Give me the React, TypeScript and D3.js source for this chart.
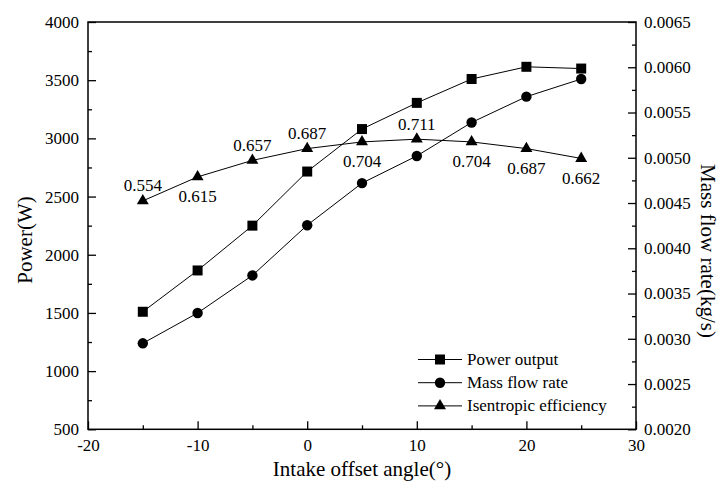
import React, { useRef, useEffect } from "react";
import * as d3 from "d3";

// data
const angles = [-15, -10, -5, 0, 5, 10, 15, 20, 25];
const powerOutput = [1510, 1865, 2250, 2715, 3080, 3305, 3510, 3615, 3600];
const massFlowRate = [0.00295, 0.003285, 0.0037, 0.004255, 0.00472, 0.00502, 0.00539, 0.005675, 0.00587];
const efficiency = [0.554, 0.615, 0.657, 0.687, 0.704, 0.711, 0.704, 0.687, 0.662];

const xTicks = [-20, -10, 0, 10, 20, 30];
const powerTicks = [500, 1000, 1500, 2000, 2500, 3000, 3500, 4000];
const flowTicks = [0.002, 0.0025, 0.003, 0.0035, 0.004, 0.0045, 0.005, 0.0055, 0.006, 0.0065];

const legendNames = ["Power output", "Mass flow rate", "Isentropic efficiency"];

const W = 721;
const H = 491;
const FONT = "Liberation Serif, Times New Roman, serif";

const App = () => {
  const svgRef = useRef(null);

  useEffect(() => {
    const svg = d3.select(svgRef.current);
    svg.selectAll("*").remove();

    const left = 88, right = 636, top = 22, bottom = 429.3;

    //scales
    const x = d3.scaleLinear().domain([-20, 30]).range([left, right]);
    const yPow = d3.scaleLinear().domain([500, 4000]).range([bottom, top]);
    const yFlow = d3.scaleLinear().domain([0.002, 0.0065]).range([bottom, top]);
    // hidden scale for the efficiency curve (no axis drawn in the figure)
    const yEff = d3.scaleLinear().domain([-0.027, 1.009]).range([bottom, top]);

    svg.append("rect").attr("width", W).attr("height", H).attr("fill", "#fff");

    //axes
    const styleAxis = (g) => {
      g.attr("font-family", FONT).attr("font-size", 17);
      g.select(".domain").remove();
      g.selectAll("line").attr("stroke", "#000").attr("stroke-width", 1.3);
      g.selectAll("text").attr("fill", "#000");
    };

    const minor = (ticks, step) => ticks.slice(0, -1).map((t) => t + step / 2);
    const plainInt = (d) => String(d); // hyphen minus like the original

    // x axis, ticks pointing inward
    const gx = svg.append("g").attr("transform", `translate(0,${bottom})`);
    gx.call(d3.axisBottom(x).tickValues(minor(xTicks, 10)).tickSize(-4).tickFormat(() => ""));
    gx.call(styleAxis);
    const gx2 = svg.append("g").attr("transform", `translate(0,${bottom})`);
    gx2.call(d3.axisBottom(x).tickValues(xTicks).tickSize(-8).tickPadding(10).tickFormat(plainInt));
    gx2.call(styleAxis);

    // left axis
    const gl = svg.append("g").attr("transform", `translate(${left},0)`);
    gl.call(d3.axisLeft(yPow).tickValues(minor(powerTicks, 500)).tickSize(-4).tickFormat(() => ""));
    gl.call(styleAxis);
    const gl2 = svg.append("g").attr("transform", `translate(${left},0)`);
    gl2.call(d3.axisLeft(yPow).tickValues(powerTicks).tickSize(-8).tickPadding(9).tickFormat(plainInt));
    gl2.call(styleAxis);

    // right axis
    const gr = svg.append("g").attr("transform", `translate(${right},0)`);
    gr.call(d3.axisRight(yFlow).tickValues(minor(flowTicks, 0.0005)).tickSize(-4).tickFormat(() => ""));
    gr.call(styleAxis);
    const gr2 = svg.append("g").attr("transform", `translate(${right},0)`);
    gr2.call(d3.axisRight(yFlow).tickValues(flowTicks).tickSize(-8).tickPadding(8).tickFormat(d3.format(".4f")));
    gr2.call(styleAxis);

    // frame
    svg
      .append("rect")
      .attr("x", left)
      .attr("y", top)
      .attr("width", right - left)
      .attr("height", bottom - top)
      .attr("fill", "none")
      .attr("stroke", "#000")
      .attr("stroke-width", 1.5);

    // axis titles
    svg
      .append("text")
      .attr("x", (left + right) / 2)
      .attr("y", 476)
      .attr("text-anchor", "middle")
      .attr("font-family", FONT)
      .attr("font-size", 21)
      .text("Intake offset angle(°)");

    svg
      .append("text")
      .attr("transform", `translate(32,240) rotate(-90)`)
      .attr("text-anchor", "middle")
      .attr("font-family", FONT)
      .attr("font-size", 21)
      .text("Power(W)");

    svg
      .append("text")
      .attr("transform", `translate(701,251) rotate(90)`)
      .attr("text-anchor", "middle")
      .attr("font-family", FONT)
      .attr("font-size", 21)
      .text("Mass flow rate(kg/s)");

    //series
    const series = [
      { vals: powerOutput, y: yPow, sym: d3.symbolSquare, size: 100 },
      { vals: massFlowRate, y: yFlow, sym: d3.symbolCircle, size: 85 },
      { vals: efficiency, y: yEff, sym: d3.symbolTriangle, size: 62 },
    ];

    series.forEach((s) => {
      const pts = angles.map((a, i) => [x(a), s.y(s.vals[i])]);
      svg
        .append("path")
        .attr("d", d3.line()(pts))
        .attr("fill", "none")
        .attr("stroke", "#000")
        .attr("stroke-width", 1);
      svg
        .selectAll(null)
        .data(pts)
        .join("path")
        .attr("transform", (d) => `translate(${d[0]},${d[1]})`)
        .attr("d", d3.symbol().type(s.sym).size(s.size)())
        .attr("fill", "#000");
    });

    // efficiency value labels, above or below the marker
    const below = [false, true, false, false, true, false, true, true, true];
    svg
      .selectAll(null)
      .data(efficiency)
      .join("text")
      .attr("x", (d, i) => x(angles[i]))
      .attr("y", (d, i) => yEff(d) + (below[i] ? 20 : -15))
      .attr("dominant-baseline", "central")
      .attr("text-anchor", "middle")
      .attr("font-family", FONT)
      .attr("font-size", 17)
      .text((d) => d3.format(".3f")(d));

    //legend
    const lg = svg.append("g").attr("font-family", FONT).attr("font-size", 17);
    legendNames.forEach((name, i) => {
      const cy = 359.5 + i * 23.2;
      lg.append("line")
        .attr("x1", 418)
        .attr("x2", 462)
        .attr("y1", cy)
        .attr("y2", cy)
        .attr("stroke", "#000")
        .attr("stroke-width", 1);
      lg.append("path")
        .attr("transform", `translate(440,${cy})`)
        .attr("d", d3.symbol().type(series[i].sym).size(series[i].size)())
        .attr("fill", "#000");
      lg.append("text")
        .attr("x", 467)
        .attr("y", cy)
        .attr("dominant-baseline", "central")
        .text(name);
    });
  }, []);

  return (
    <svg
      ref={svgRef}
      width={W}
      height={H}
      style={{ position: "absolute", left: 0, top: 0, fontFamily: FONT }}
    />
  );
};

export default App;
